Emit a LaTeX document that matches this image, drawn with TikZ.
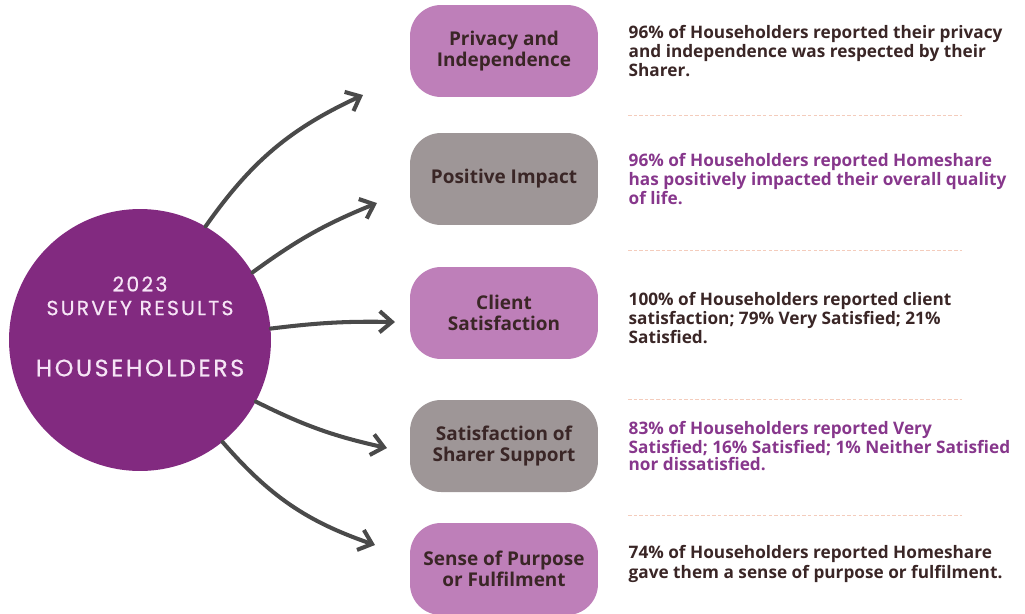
\documentclass[tikz,border=0pt]{standalone}
\usepackage{fontspec}
\setmainfont{Open Sans}
\newfontfamily\hubfont{Poppins}[LetterSpace=11,FakeBold=0.6]
\usetikzlibrary{arrows.meta,positioning}
\definecolor{HSplum}{RGB}{130,42,128}
\definecolor{HSpink}{RGB}{190,127,185}
\definecolor{HSgrey}{RGB}{158,150,151}
\definecolor{HSink}{RGB}{58,38,38}
\definecolor{HSviolet}{RGB}{135,55,140}
\definecolor{HSarrow}{RGB}{74,74,74}
\definecolor{HSdash}{RGB}{244,204,188}
\definecolor{HSlight}{RGB}{246,228,246}
\tikzstyle{tbox}  = [rectangle, rounded corners=0.62cm,
                     minimum width=3.76cm, minimum height=1.84cm,
                     align=center, inner sep=2pt, text=HSink,
                     font=\fontsize{10.8}{12}\selectfont\bfseries]
\tikzstyle{Bpink} = [tbox, fill=HSpink]
\tikzstyle{Bgrey} = [tbox, fill=HSgrey]
\tikzstyle{desc}  = [anchor=west, align=left, inner sep=0pt,
                     font=\fontsize{9.8}{9.6}\selectfont\bfseries]
\tikzstyle{Dink}  = [desc, text=HSink]
\tikzstyle{Dvio}  = [desc, text=HSviolet]
\tikzstyle{arr}   = [-{Straight Barb[length=7pt,width=12pt]},
                     line width=2.3pt, draw=HSarrow, line cap=round]
\tikzstyle{sep}   = [dash pattern=on 2pt off 1.2pt, line width=0.5pt, draw=HSdash]

\begin{document}
\begin{tikzpicture}[x=0.02cm, y=-0.02cm]
  \useasboundingbox (0,0) rectangle (1025,613);
  % hub
  \node[circle, fill=HSplum, minimum size=5.24cm, inner sep=0pt] (hub) at (140,340) {};
  \node[text=HSlight, font=\hubfont\fontsize{11.6}{13}\selectfont] (yr) at (140,284) {2023};
  \node[text=HSlight, font=\hubfont\fontsize{11.6}{13}\selectfont] (sr) at (140,308) {SURVEY RESULTS};
  \node[text=HSlight, font=\hubfont\fontsize{13.5}{15}\selectfont] (hh) at (140,368) {HOUSEHOLDERS};
  % topic boxes
  \node[Bpink] (b1) at (504,51)  {Privacy and\\Independence};
  \node[Bgrey] (b2) at (504,179) {Positive Impact};
  \node[Bpink] (b3) at (504,313) {Client\\Satisfaction};
  \node[Bgrey] (b4) at (504,446) {Satisfaction of\\Sharer Support};
  \node[Bpink] (b5) at (504,569) {Sense of Purpose\\or Fulfilment};
  % results
  \node[Dink, right=0.6cm of b1] (d1) {96\% of Householders reported their privacy\\and independence was respected by their\\Sharer.};
  \node[Dvio, right=0.6cm of b2] (d2) {96\% of Householders reported Homeshare\\has positively impacted their overall quality\\of life.};
  \node[Dink, right=0.6cm of b3, yshift=-0.1cm] (d3) {100\% of Householders reported client\\satisfaction; 79\% Very Satisfied; 21\%\\Satisfied.};
  \node[Dvio, right=0.6cm of b4] (d4) {83\% of Householders reported Very\\Satisfied; 16\% Satisfied; 1\% Neither Satisfied\\nor dissatisfied.};
  \node[Dink, right=0.6cm of b5, yshift=0.1cm] (d5) {74\% of Householders reported Homeshare\\gave them a sense of purpose or fulfilment.};
  \draw[sep] (628,115) -- (962,115);
  \draw[sep] (628,250) -- (962,250);
  \draw[sep] (628,399) -- (962,399);
  \draw[sep] (628,515) -- (962,515);
  % arrows
  \coordinate (t1) at (363,95);
  \coordinate (t2) at (377,203);
  \coordinate (t3) at (395,322);
  \coordinate (t4) at (387,448);
  \coordinate (t5) at (375,545);
  \draw[arr] (hub.60)  to[bend left=15] (t1);
  \draw[arr] (hub.31)  to[bend left=7]  (t2);
  \draw[arr] (hub.5)   to[bend left=4]  (t3);
  \draw[arr] (hub.-28) to[bend right=7] (t4);
  \draw[arr] (hub.-51) to[bend right=15] (t5);
\end{tikzpicture}
\end{document}
